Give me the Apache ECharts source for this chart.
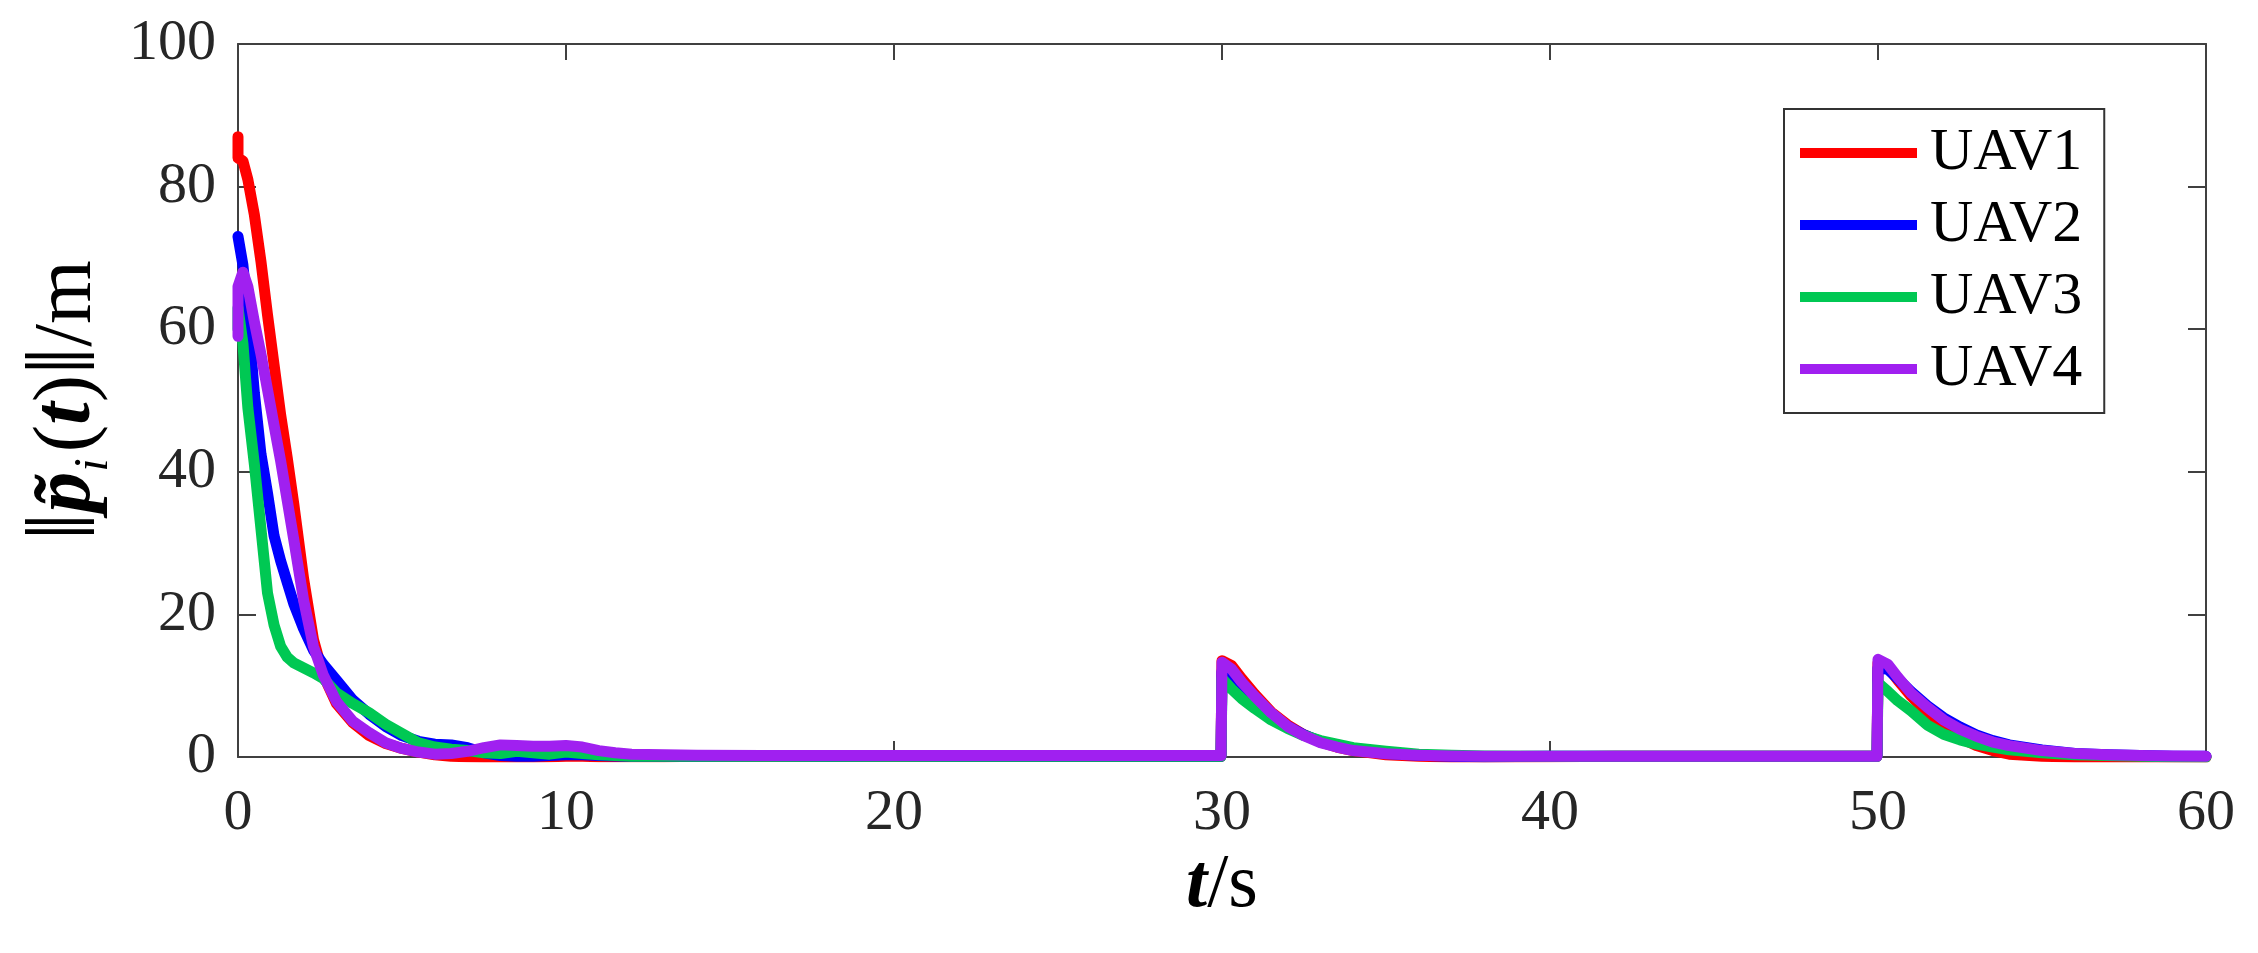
<!DOCTYPE html>
<html>
<head>
<meta charset="utf-8">
<script src="https://cdn.jsdelivr.net/npm/echarts@6/dist/echarts.min.js"></script>
<style>
html,body{margin:0;padding:0;background:#fff;}
#chart{width:2258px;height:953px;}
</style>
</head>
<body>
<div id="chart"></div>
<script>
const seriesNames = ['UAV1', 'UAV2', 'UAV3', 'UAV4'];
const xTicks = [0, 10, 20, 30, 40, 50, 60];
const yTicks = [0, 20, 40, 60, 80, 100];

const t = [0, 0, 0.15, 0.3, 0.5, 0.7, 0.9, 1.1, 1.3, 1.5, 1.7, 2.0, 2.3, 2.6, 3.0, 3.5, 4.0, 4.5, 5.0, 5.5,
  6.0, 6.5, 7.0, 7.5, 8.0, 8.5, 9.0, 9.5, 10.0, 10.5, 11.0, 11.5, 12, 13, 14, 16, 18, 20, 22, 24, 26, 28, 29.97,
  30.0, 30.3, 30.6, 31.0, 31.5, 32.0, 32.5, 33.0, 33.5, 34.0, 35, 36, 37, 38, 40, 42, 44, 46, 48, 49.97,
  50.0, 50.3, 50.6, 51.0, 51.5, 52.0, 52.5, 53.0, 53.5, 54.0, 55, 56, 57, 58, 59, 60];

const uav1 = [87, 84, 83.6, 81, 76, 69.5, 62, 55, 48, 42, 35.5, 25, 16.5, 11.5, 7.5, 4.8, 3.0, 1.9, 1.2, 0.7,
  0.3, 0.1, 0.02, 0, 0, 0, 0, 0.05, 0.1, 0.1, 0.05, 0.05, 0.05, 0.05, 0.1, 0.1, 0.1, 0.1, 0.1, 0.1, 0.1, 0.1, 0.1,
  13.5, 12.8, 11, 8.8, 6.3, 4.5, 3.1, 2.1, 1.4, 0.9, 0.3, 0.1, 0, 0, 0.05, 0.1, 0.1, 0.1, 0.1, 0.1,
  13.2, 12.6, 10.8, 8.6, 6.2, 4.2, 2.7, 1.6, 0.9, 0.4, 0.1, 0, 0, 0, 0, 0];

const uav2 = [73, 73, 69, 62, 51, 42.5, 37, 31, 27.5, 24.5, 21.5, 18, 15, 13, 10.8, 8, 6, 4.3, 3, 2.2,
  1.8, 1.7, 1.3, 0.6, 0.2, 0.1, 0.1, 0.2, 0.3, 0.3, 0.2, 0.15, 0.1, 0.1, 0.1, 0.15, 0.1, 0.15, 0.1, 0.1, 0.1, 0.1, 0.1,
  12, 11, 9.5, 7.8, 5.8, 4.3, 3.1, 2.2, 1.6, 1.1, 0.5, 0.25, 0.1, 0.05, 0.1, 0.1, 0.1, 0.1, 0.1, 0.1,
  12.5, 12.3, 11, 9.2, 7.2, 5.5, 4.2, 3.1, 2.3, 1.7, 1.0, 0.5, 0.3, 0.2, 0.1, 0.1];

const uav3 = [60, 63, 58, 49, 41, 32, 23, 18.5, 15.5, 14, 13.2, 12.5, 11.8, 11, 9, 7.5, 6.2, 4.6, 3.3, 2,
  1.4, 1.1, 0.9, 0.6, 0.5, 0.8, 0.6, 0.4, 0.7, 0.5, 0.3, 0.2, 0.1, 0.1, 0.1, 0.1, 0.1, 0.1, 0.1, 0.1, 0.1, 0.1, 0.1,
  11, 9.5, 8.2, 6.8, 5.2, 4.0, 3.0, 2.3, 1.8, 1.3, 0.8, 0.4, 0.25, 0.15, 0.1, 0.1, 0.1, 0.1, 0.1, 0.1,
  10.4, 9.2, 7.9, 6.5, 4.5, 3.2, 2.4, 1.8, 1.4, 1.0, 0.6, 0.3, 0.2, 0.1, 0.05, 0];

const uav4 = [59, 66, 68, 66, 61, 56.5, 51.5, 46.5, 41.5, 36, 30.5, 22, 15.5, 11.5, 7.8, 5, 3.4, 2, 1.2, 0.7,
  0.4, 0.5, 0.8, 1.3, 1.7, 1.6, 1.5, 1.5, 1.6, 1.4, 0.9, 0.6, 0.4, 0.3, 0.25, 0.2, 0.2, 0.2, 0.2, 0.2, 0.2, 0.2, 0.2,
  13.3, 12.3, 10.5, 8.5, 6.2, 4.3, 3.0, 2.0, 1.4, 0.9, 0.45, 0.25, 0.15, 0.1, 0.1, 0.1, 0.1, 0.1, 0.1, 0.1,
  13.7, 13, 11.2, 9, 7, 5.2, 3.9, 2.9, 2.1, 1.6, 0.9, 0.5, 0.3, 0.2, 0.15, 0.1];

const colors = ['#FF0000', '#0000FF', '#00C853', '#A020F0'];
const values = [uav1, uav2, uav3, uav4];

const chart = echarts.init(document.getElementById('chart'), null, {renderer: 'canvas'});
const FONT = '"Liberation Serif", "Times New Roman", Times, serif';
const axisCol = '#404040';

const series = values.map((vals, k) => ({
  name: seriesNames[k],
  type: 'line',
  xAxisIndex: 0,
  yAxisIndex: 0,
  data: t.map((x, i) => [x, vals[i]]),
  showSymbol: false,
  symbol: 'none',
  smooth: false,
  lineStyle: {color: colors[k], width: 11, join: 'round', cap: 'round'},
  itemStyle: {color: colors[k]},
  z: 2 + k,
  animation: false
}));

const option = {
  backgroundColor: '#ffffff',
  animation: false,
  grid: {left: 238, right: 52, top: 44, bottom: 196, containLabel: false},
  legend: {
    orient: 'vertical',
    left: 1784,
    top: 109,
    padding: [8, 22, 8, 16],
    itemGap: 0,
    itemWidth: 117,
    itemHeight: 10,
    icon: 'rect',
    borderColor: '#333',
    borderWidth: 2,
    borderRadius: 0,
    backgroundColor: '#fff',
    data: seriesNames,
    textStyle: {fontFamily: FONT, fontSize: 60, color: '#000', lineHeight: 72, padding: [0, 0, 0, 8]}
  },
  xAxis: [{
    type: 'value', min: xTicks[0], max: xTicks[xTicks.length - 1], interval: 10,
    position: 'bottom',
    name: '{b|t}{n|/s}', nameLocation: 'middle', nameGap: 86,
    nameTextStyle: {rich: {
      b: {fontFamily: FONT, fontSize: 76, fontWeight: 'bold', fontStyle: 'italic', color: '#000'},
      n: {fontFamily: FONT, fontSize: 76, color: '#000'}
    }},
    axisLine: {show: true, onZero: false, lineStyle: {color: axisCol, width: 2}},
    axisTick: {show: true, inside: true, length: 16, lineStyle: {color: axisCol, width: 2}},
    axisLabel: {fontFamily: FONT, fontSize: 58, color: '#262626', margin: 28},
    splitLine: {show: false}
  }, {
    type: 'value', min: 0, max: 60, interval: 10, position: 'top',
    axisLine: {show: true, onZero: false, lineStyle: {color: axisCol, width: 2}},
    axisTick: {show: true, inside: true, length: 16, lineStyle: {color: axisCol, width: 2}},
    axisLabel: {show: false}, splitLine: {show: false}
  }],
  yAxis: [{
    type: 'value', min: yTicks[0], max: yTicks[yTicks.length - 1], interval: 20,
    position: 'left',
    name: '{d|‖}{b|p̃}{s|i}{n|(}{b|t}{n|)}{d|‖}{n|/m}',
    nameLocation: 'middle', nameRotate: 90, nameGap: 100,
    nameTextStyle: {rich: {
      d: {fontFamily: FONT, fontSize: 100, color: '#000'},
      n: {fontFamily: FONT, fontSize: 82, color: '#000'},
      b: {fontFamily: FONT, fontSize: 82, fontWeight: 'bold', fontStyle: 'italic', color: '#000'},
      s: {fontFamily: FONT, fontSize: 48, fontStyle: 'italic', color: '#000', verticalAlign: 'bottom', padding: [0, 6, 0, 0]}
    }},
    axisLine: {show: true, onZero: false, lineStyle: {color: axisCol, width: 2}},
    axisTick: {show: true, inside: true, length: 18, lineStyle: {color: axisCol, width: 2}},
    axisLabel: {fontFamily: FONT, fontSize: 58, color: '#262626', margin: 22},
    splitLine: {show: false}
  }, {
    type: 'value', min: 0, max: 100, interval: 20, position: 'right',
    axisLine: {show: true, onZero: false, lineStyle: {color: axisCol, width: 2}},
    axisTick: {show: true, inside: true, length: 18, lineStyle: {color: axisCol, width: 2}},
    axisLabel: {show: false}, splitLine: {show: false}
  }],
  series: series
};
chart.setOption(option);
</script>
</body>
</html>
